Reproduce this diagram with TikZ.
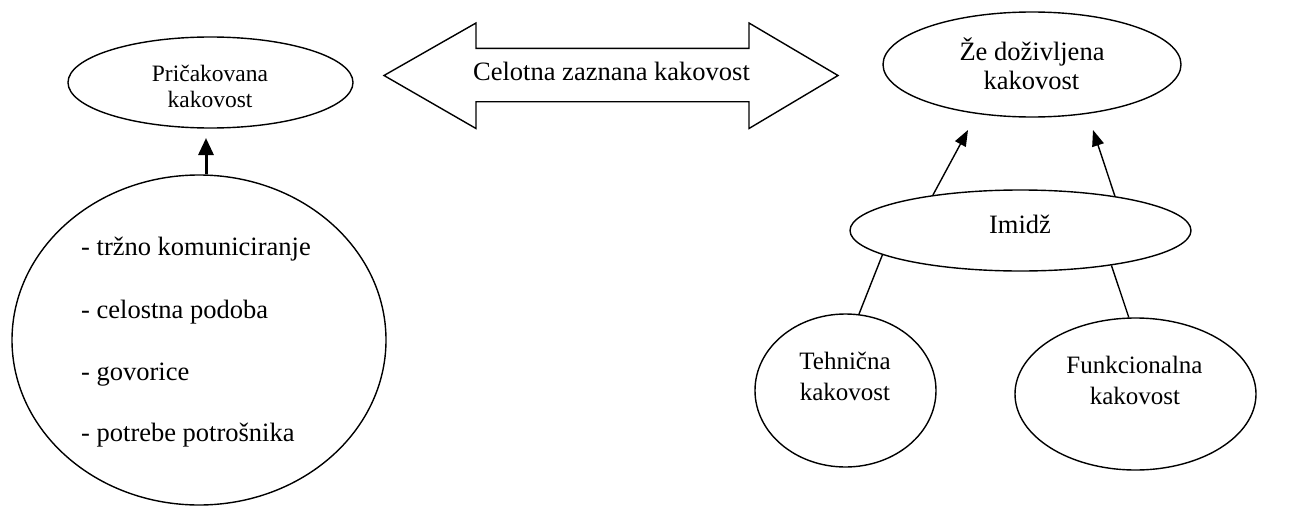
\documentclass[tikz,border=0pt]{standalone}
\usepackage{fontspec}
\setmainfont{Liberation Serif}
\usetikzlibrary{shapes.geometric,arrows.meta}
\tikzset{
  ell/.style={draw, ellipse, line width=1.4pt, inner sep=0pt},
  conn/.style={line width=1.4pt},
  arr/.style={conn, -{Triangle[length=16pt,width=12pt]}},
  thickarr/.style={line width=3pt, -{Triangle[length=17pt,width=15pt]}},
  txt/.style={anchor=base, inner sep=0pt, font=\fontsize{26.5}{30}\selectfont},
  txtl/.style={txt, anchor=base west},
  txts/.style={txt, font=\fontsize{23.5}{27}\selectfont},
  txtm/.style={txt, font=\fontsize{25}{29}\selectfont},
}
\begin{document}
\begin{tikzpicture}[x=1pt,y=-1pt]
\useasboundingbox (0,0) rectangle (1291,506);
% ellipses
\node[ell, minimum width=285pt, minimum height=91pt] (prick) at (210.5,82.5) {};
\node[ell, minimum width=374pt, minimum height=330pt] (big) at (199,340) {};
\node[ell, minimum width=298pt, minimum height=105pt] (ze) at (1032,64.5) {};
\node[ell, minimum width=341pt, minimum height=81pt] (imidz) at (1020.5,230.5) {};
\node[ell, minimum width=181pt, minimum height=153pt] (teh) at (845.5,390.5) {};
\node[ell, minimum width=241pt, minimum height=152pt] (fun) at (1135.5,394) {};
% double arrow
\draw[line width=1.4pt, line join=miter]
  (384,75.5) -- (476,23) -- (476,48.3) -- (749,48.3) -- (749,23) -- (838,75.5)
  -- (749,128.5) -- (749,101.7) -- (476,101.7) -- (476,128.5) -- cycle;
% texts
\node[txts] (p1) at (210,81) {Pričakovana};
\node[txts] (p2) at (210,107) {kakovost};
\node[txt] (celotna) at (611.5,80) {Celotna zaznana kakovost};
\node[txt] (z1) at (1032,60) {Že doživljena};
\node[txt] (z2) at (1031.5,89.3) {kakovost};
\node[txt] (im) at (1020,233.3) {Imidž};
\node[txtm] (t1) at (845,369.3) {Tehnična};
\node[txtm] (t2) at (845,400) {kakovost};
\node[txtm] (f1) at (1134.5,373.3) {Funkcionalna};
\node[txtm] (f2) at (1135,404) {kakovost};
\node[txtl] (l1) at (81,255) {- tržno komuniciranje};
\node[txtl] (l2) at (81,318.3) {- celostna podoba};
\node[txtl] (l3) at (81,380) {- govorice};
\node[txtl] (l4) at (81,441.7) {- potrebe potrošnika};
% connectors
\coordinate (tipA) at (206,138);
\draw[thickarr] (tipA |- big.north) -- (tipA);
\coordinate (tipB) at (968,130);
\coordinate (tipC) at (1093,130);
\draw[arr] (imidz.158.4) -- (tipB);
\draw[arr] (imidz.20.3) -- (tipC);
\draw[conn] (imidz.190.9) -- (teh.80);
\draw[conn] (imidz.339.5) -- (fun.95.6);
\end{tikzpicture}
\end{document}
